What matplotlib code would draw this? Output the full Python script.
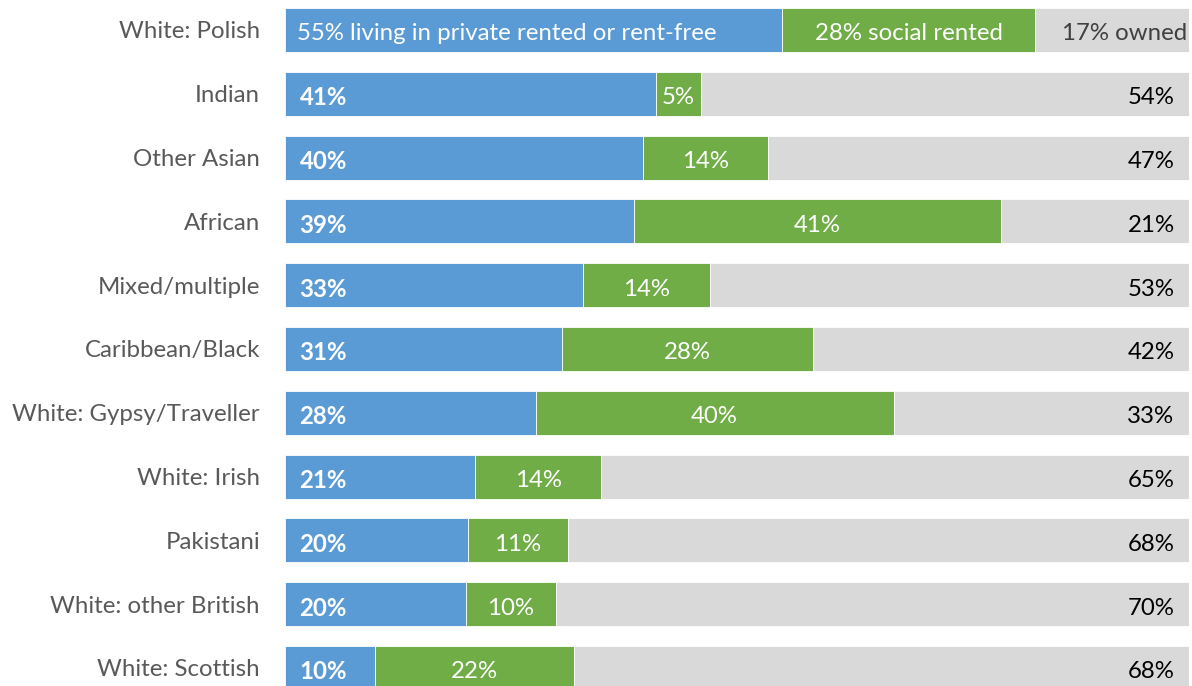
import numpy as np
import matplotlib.pyplot as plt

plt.rcParams['font.family'] = ['Lato', 'DejaVu Sans']

## data (row percentages)
groups = ['White: Polish', 'Indian', 'Other Asian', 'African', 'Mixed/multiple',
          'Caribbean/Black', 'White: Gypsy/Traveller', 'White: Irish', 'Pakistani',
          'White: other British', 'White: Scottish']
private_rented = [55, 41, 40, 39, 33, 31, 28, 21, 20, 20, 10]
social_rented = [28, 5, 14, 41, 14, 28, 40, 14, 11, 10, 22]
owned = [17, 54, 47, 21, 53, 42, 33, 65, 68, 70, 68]

blue = '#5B9BD5'
green = '#70AD47'
grey = '#D9D9D9'

p = np.array(private_rented, dtype=float)
s = np.array(social_rented, dtype=float)
o = np.array(owned, dtype=float)
tot = p + s + o
# 100% stacked bars
pn, sn, on = 100 * p / tot, 100 * s / tot, 100 * o / tot
y = np.arange(len(groups))

fig = plt.figure(figsize=(11.92, 6.86), dpi=100)
ax = fig.add_axes([285 / 1192, 0, 904 / 1192, 1])

h = 0.69
ax.barh(y, pn, height=h, color=blue, edgecolor='white', linewidth=0.6)
ax.barh(y, sn, left=pn, height=h, color=green, edgecolor='white', linewidth=0.6)
ax.barh(y, on, left=pn + sn, height=h, color=grey, edgecolor='white', linewidth=0.6)

fs = 17.3
dy = 0.06  # nudge text a little below bar centre, like the original
for i in range(len(groups)):
    yy = i + dy
    if i == 0:
        ax.text(1.3, yy, f'{private_rented[i]}% living in private rented or rent-free',
                color='white', fontsize=fs, va='center', ha='left')
        ax.text(pn[i] + sn[i] / 2, yy, f'{social_rented[i]}% social rented',
                color='white', fontsize=fs, va='center', ha='center')
        ax.text(99.8, yy, f'{owned[i]}% owned', color='#404040',
                fontsize=fs, va='center', ha='right')
    else:
        ax.text(1.6, yy, f'{private_rented[i]}%', color='white', fontsize=fs,
                fontweight='bold', va='center', ha='left')
        ax.text(pn[i] + sn[i] / 2, yy, f'{social_rented[i]}%', color='white',
                fontsize=fs, va='center', ha='center')
        ax.text(98.4, yy, f'{owned[i]}%', color='black', fontsize=fs,
                va='center', ha='right')

ax.set_xlim(0, 100)
ax.set_ylim(10 + 18 / 63.8, -30 / 63.8)
ax.set_yticks(y)
ax.set_yticklabels(groups, fontsize=fs, color='#595959')
ax.tick_params(axis='y', length=0, pad=18)
ax.set_xticks([])
for sp in ax.spines.values():
    sp.set_visible(False)

plt.savefig('out.png', dpi=100)
